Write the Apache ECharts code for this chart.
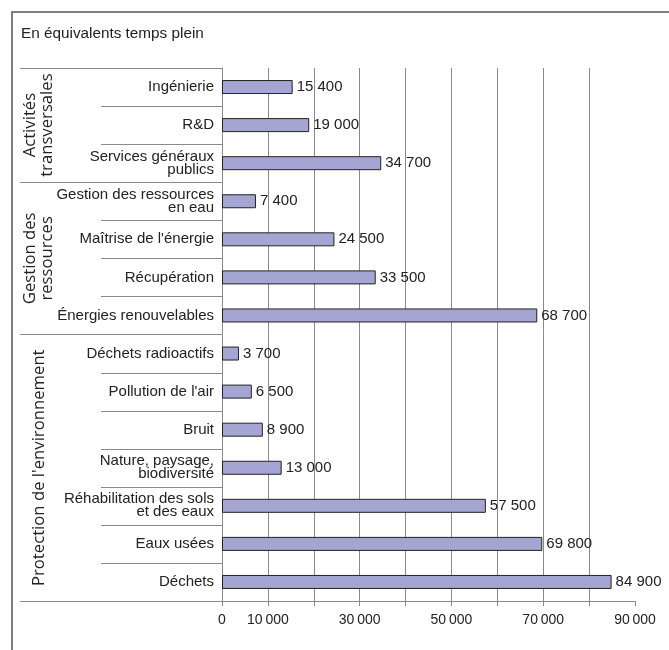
<!DOCTYPE html>
<html>
<head>
<meta charset="utf-8">
<script src="https://cdn.jsdelivr.net/npm/echarts@6/dist/echarts.min.js"></script>
<style>
html,body{margin:0;padding:0;background:#fff;}
#chart{width:669px;height:650px;}
</style>
</head>
<body>
<div id="chart"></div>
<script>
const categories = ['Ingénierie', 'R&D', 'Services généraux\npublics', 'Gestion des ressources\nen eau', "Maîtrise de l'énergie", 'Récupération', 'Énergies renouvelables', 'Déchets radioactifs', "Pollution de l'air", 'Bruit', 'Nature, paysage,\nbiodiversité', 'Réhabilitation des sols\net des eaux', 'Eaux usées', 'Déchets'];
const values = [15400, 19000, 34700, 7400, 24500, 33500, 68700, 3700, 6500, 8900, 13000, 57500, 69800, 84900];
const groupNames = ['Activités\ntransversales', 'Gestion des\nressources', "Protection de l'environnement"];
const groupSizes = [3, 4, 7];
const tickLabelValues = [0, 10000, 30000, 50000, 70000, 90000];
const titleText = 'En équivalents temps plein';

const SANS = '"Liberation Sans", Arial, sans-serif';
const WIDE = '"Open Sans", "Noto Sans", sans-serif';

function fmt(n, sep) {
  return String(n).replace(/\B(?=(\d{3})+(?!\d))/g, sep);
}

const chart = echarts.init(document.getElementById('chart'), null, {renderer: 'canvas'});

const option = {
  animation: false,
  backgroundColor: '#fff',
  title: {
    text: titleText,
    left: 16,
    top: 21,
    textStyle: {fontFamily: SANS, fontSize: 15.3, fontWeight: 'normal', color: '#222'}
  },
  grid: {left: 222, right: 34, top: 68, bottom: 49, containLabel: false},
  xAxis: {
    type: 'value',
    min: 0,
    max: 90000,
    interval: 10000,
    axisLine: {show: true, lineStyle: {color: '#8a8a8a', width: 1}},
    axisTick: {show: true, length: 5, lineStyle: {color: '#8a8a8a'}},
    splitLine: {show: true, showMinLine: false, showMaxLine: false, lineStyle: {color: '#8a8a8a', width: 1}},
    axisLabel: {
      margin: 12,
      fontFamily: SANS,
      fontSize: 14,
      color: '#222',
      formatter: function (v) { return tickLabelValues.indexOf(v) >= 0 ? fmt(v, '\u2009') : ''; }
    }
  },
  yAxis: {
    type: 'category',
    inverse: true,
    data: categories,
    axisLine: {show: true, lineStyle: {color: '#8a8a8a', width: 1}},
    axisTick: {show: false},
    splitLine: {show: false},
    axisLabel: {
      margin: 8,
      fontFamily: SANS,
      fontSize: 15,
      lineHeight: 13,
      color: '#222',
      align: 'right'
    }
  },
  series: [{
    type: 'bar',
    data: values,
    barWidth: 14,
    itemStyle: {color: '#a5a5d3', borderColor: '#222', borderWidth: 1},
    label: {
      show: true,
      position: 'right',
      distance: 4,
      fontFamily: SANS,
      fontSize: 15,
      color: '#222',
      formatter: function (p) { return fmt(p.value, ' '); }
    }
  }]
};
chart.setOption(option);

// Decorations derived from the category scale
const centers = categories.map(function (c, i) { return chart.convertToPixel({yAxisIndex: 0}, i); });
const band = centers[1] - centers[0];
const xAxis0 = chart.convertToPixel({xAxisIndex: 0}, 0);
const boxLeft = 20, innerLeft = 101;
const graphics = [];
// outer frame
graphics.push({type: 'rect', shape: {x: 12, y: 12, width: 800, height: 800}, style: {fill: 'none', stroke: '#555', lineWidth: 1.5}, silent: true});
const groupEnds = [];
let acc = 0;
groupSizes.forEach(function (s) { acc += s; groupEnds.push(acc); });
// boundaries
for (let i = 0; i <= categories.length; i++) {
  const y = Math.round(centers[0] - band / 2 + i * band) + 0.5;
  const full = (i === 0 || groupEnds.indexOf(i) >= 0);
  graphics.push({type: 'line', shape: {x1: full ? boxLeft : innerLeft, y1: y, x2: xAxis0, y2: y}, style: {stroke: '#8a8a8a', lineWidth: 1}, silent: true});
}
// group labels
let start = 0;
groupSizes.forEach(function (s, g) {
  const yTop = centers[start] - band / 2;
  const yBot = centers[start + s - 1] + band / 2;
  graphics.push({
    type: 'text',
    x: 39,
    y: (yTop + yBot) / 2,
    rotation: Math.PI / 2,
    style: {text: groupNames[g], fontFamily: WIDE, fontSize: 16.7, lineHeight: 17, fill: '#222', align: 'center', verticalAlign: 'middle'},
    silent: true
  });
  start += s;
});
chart.setOption({graphic: graphics});
</script>
</body>
</html>
